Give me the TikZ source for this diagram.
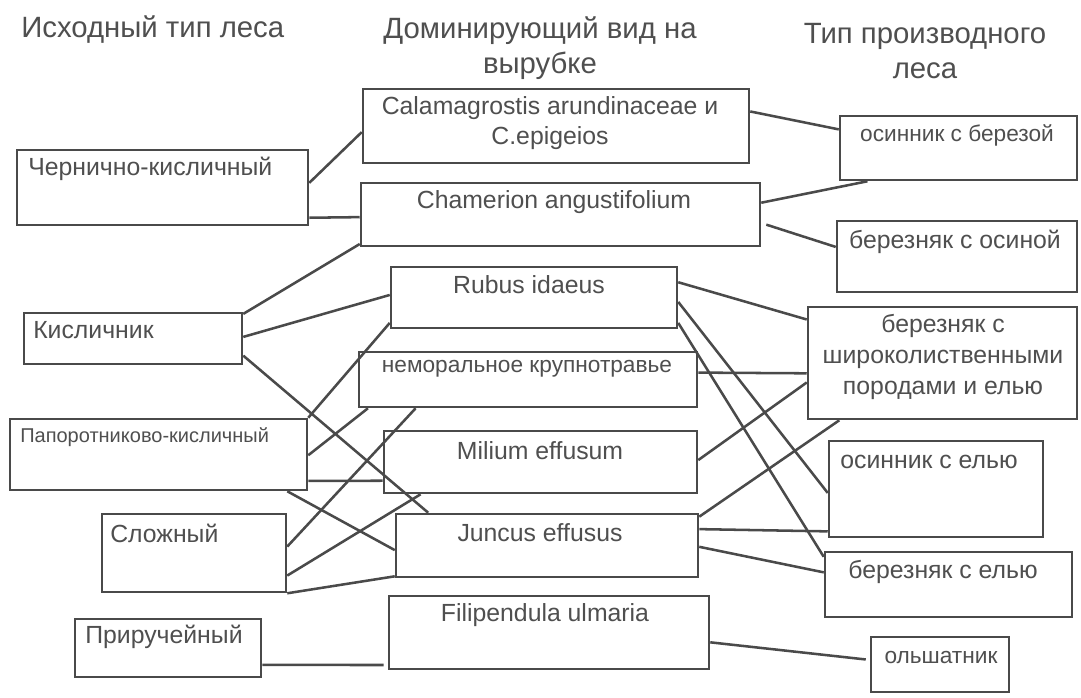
\documentclass[tikz,border=0pt]{standalone}
\usepackage{fontspec}
\setmainfont{Liberation Sans}
\usetikzlibrary{calc,fit}
\definecolor{ink}{HTML}{4A4A4A}
\definecolor{txt}{HTML}{4F4F4F}
\begin{document}
\begin{tikzpicture}[x=0.75pt,y=-0.75pt,
  box/.style={draw=ink,line width=1.9pt,inner sep=0pt,rectangle},
  link/.style={draw=ink,line width=1.9pt},
  lbl/.style={text=txt,inner sep=0pt,align=center,font=\fontsize{18.6}{22.8}\selectfont},
  lbls/.style={lbl,font=\fontsize{17}{21}\selectfont},
  lblxs/.style={lbl,font=\fontsize{15}{18}\selectfont},
  head/.style={text=txt,inner sep=0pt,align=center,font=\fontsize{22}{26.3}\selectfont}]
\useasboundingbox[fill=white] (0,0) rectangle (1081,697);

% column headers
\node[head,anchor=west] (h1) at (21,30) {Исходный тип леса};
\node[head] (h2) at (540,48) {Доминирующий вид на\\вырубке};
\node[head] (h3) at (925,51) {Тип производного\\леса};

% original forest types
\node[box,fit={(17,150)(308,225)}] (A1) {};
\node[box,fit={(24,313)(242,364)}] (A2) {};
\node[box,fit={(10,419)(307,490)}] (A3) {};
\node[box,fit={(102,514)(286,592)}] (A4) {};
\node[box,fit={(75,619)(261,677)}] (A5) {};

% dominant species on the clearing
\node[box,fit={(363,89)(749,163)}] (B1) {};
\node[box,fit={(361,183)(760,246)}] (B2) {};
\node[box,fit={(391,267)(677,328)}] (B3) {};
\node[box,fit={(359,352)(697,407)}] (B4) {};
\node[box,fit={(384,431)(697,493)}] (B5) {};
\node[box,fit={(396,514)(698,577)}] (B6) {};
\node[box,fit={(389,596)(709,669)}] (B7) {};

% derived forest types
\node[box,fit={(840,116)(1077,180)}] (C1) {};
\node[box,fit={(837,221)(1077,292)}] (C2) {};
\node[box,fit={(808,307)(1077,419)}] (C3) {};
\node[box,fit={(829,441)(1043,537)}] (C4) {};
\node[box,fit={(825,552)(1072,617)}] (C5) {};
\node[box,fit={(871,637)(1009,692)}] (C6) {};

% box labels
\node[lbl,anchor=west] (A1t) at (28,169) {Чернично-кисличный};
\node[lbl,anchor=west] (A2t) at (33,330) {Кисличник};
\node[lblxs,anchor=west] (A3t) at (20,437) {Папоротниково-кисличный};
\node[lbl,anchor=west] (A4t) at (110,533) {Сложный};
\node[lbl,anchor=west] (A5t) at (85,637) {Приручейный};

\node[lbl] (B1t) at (550,123) {Calamagrostis arundinaceae и\\C.epigeios};
\node[lbl] (B2t) at (554,202) {Chamerion angustifolium};
\node[lbl] (B3t) at (529,285) {Rubus idaeus};
\node[lbls] (B4t) at (527,369) {неморальное крупнотравье};
\node[lbl] (B5t) at (540,451) {Milium effusum};
\node[lbl] (B6t) at (540,533) {Juncus effusus};
\node[lbl] (B7t) at (545,615) {Filipendula ulmaria};

\node[lbls] (C1t) at (957,135) {осинник с березой};
\node[lbl] (C2t) at (955,242) {березняк с осиной};
\node[lbl,font=\fontsize{18.6}{23}\selectfont] (C3t) at (943,357) {березняк с\\широколиственными\\породами и елью};
\node[lbl] (C4t) at (929,462) {осинник с елью};
\node[lbl] (C5t) at (943,572) {березняк с елью};
\node[lbls] (C6t) at (941,657) {ольшатник};

% links: original type -> dominant species
\draw[link] ($(A1.north east)!0.44!(A1.south east)$) -- ($(B1.north west)!0.58!(B1.south west)$);
\draw[link] ($(A1.north east)!0.89!(A1.south east)$) -- ($(B2.north west)!0.54!(B2.south west)$);
\draw[link] ($(A2.north east)!0.04!(A2.south east)$) -- ($(B2.north west)!0.95!(B2.south west)$);
\draw[link] ($(A2.north east)!0.47!(A2.south east)$) -- ($(B3.north west)!0.46!(B3.south west)$);
\draw[link] ($(A2.north east)!0.82!(A2.south east)$) -- ($(B6.north west)!0.11!(B6.north east)$);
\draw[link] ($(B3.north west)!0.90!(B3.south west)$) -- (A3.north east);
\draw[link] ($(A3.north east)!0.51!(A3.south east)$) -- ($(B4.south west)!0.03!(B4.south east)$);
\draw[link] ($(A3.north east)!0.86!(A3.south east)$) -- ($(B5.north west)!0.79!(B5.south west)$);
\draw[link] ($(A3.south west)!0.93!(A3.south east)$) -- ($(B6.north west)!0.57!(B6.south west)$);
\draw[link] ($(A4.north east)!0.42!(A4.south east)$) -- ($(B4.south west)!0.17!(B4.south east)$);
\draw[link] ($(A4.north east)!0.78!(A4.south east)$) -- ($(B5.south west)!0.12!(B5.south east)$);
\draw[link] (A4.south east) -- ($(B6.north west)!0.97!(B6.south west)$);
\draw[link,shorten >=3pt] ($(A5.north east)!0.78!(A5.south east)$) -- ($(B7.north west)!0.93!(B7.south west)$);

% links: dominant species -> derived type
\draw[link] ($(B1.north east)!0.31!(B1.south east)$) -- ($(C1.north west)!0.22!(C1.south west)$);
\draw[link] ($(B2.north east)!0.32!(B2.south east)$) -- ($(C1.south west)!0.12!(C1.south east)$);
\draw[link,shorten <=4pt] ($(B2.north east)!0.63!(B2.south east)$) -- ($(C2.north west)!0.37!(C2.south west)$);
\draw[link] ($(B3.north east)!0.26!(B3.south east)$) -- ($(C3.north west)!0.12!(C3.south west)$);
\draw[link] ($(B3.north east)!0.57!(B3.south east)$) -- ($(C4.north west)!0.54!(C4.south west)$);
\draw[link] ($(B3.north east)!0.90!(B3.south east)$) -- ($(C5.north west)!0.09!(C5.south west)$);
\draw[link] ($(B4.north east)!0.38!(B4.south east)$) -- ($(C3.north west)!0.59!(C3.south west)$);
\draw[link] ($(B5.north east)!0.47!(B5.south east)$) -- ($(C3.north west)!0.67!(C3.south west)$);
\draw[link] ($(B6.north east)!0.06!(B6.south east)$) -- ($(C3.south west)!0.12!(C3.south east)$);
\draw[link] ($(B6.north east)!0.25!(B6.south east)$) -- ($(C4.north west)!0.93!(C4.south west)$);
\draw[link] ($(B6.north east)!0.52!(B6.south east)$) -- ($(C5.north west)!0.32!(C5.south west)$);
\draw[link,shorten >=3pt] ($(B7.north east)!0.63!(B7.south east)$) -- ($(C6.north west)!0.42!(C6.south west)$);
\end{tikzpicture}
\end{document}
